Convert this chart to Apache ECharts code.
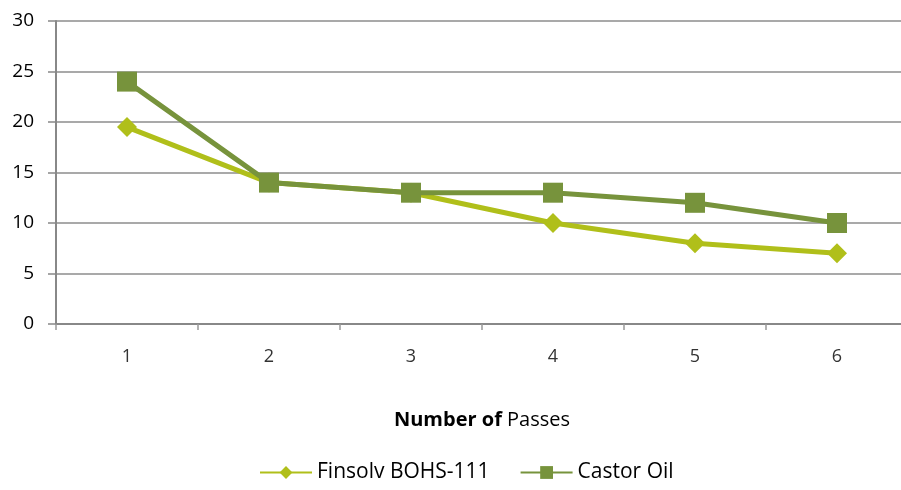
<!DOCTYPE html>
<html><head><meta charset="utf-8">
<script src="https://cdn.jsdelivr.net/npm/echarts@6/dist/echarts.min.js"></script>
<style>html,body{margin:0;padding:0;background:#fff;overflow:hidden}#c{width:910px;height:490px}</style>
</head><body><div id="c"></div>
<script>
const categories = ['1','2','3','4','5','6'];
const finsolv = [19.5, 14, 13, 10, 8, 7];
const castor = [24, 14, 13, 13, 12, 10];
const seriesNames = ['Finsolv BOHS-111', 'Castor Oil'];
const chart = echarts.init(document.getElementById('c'));
const font = '"Open Sans", "DejaVu Sans", sans-serif';
chart.setOption({
  animation: false,
  textStyle: {fontFamily: font},
  grid: {left: 56, top: 21, right: 2, bottom: 166, containLabel: false},
  legend: {
    bottom: 2, left: 254, itemWidth: 52, itemHeight: 16, itemGap: 30,
    textStyle: {fontSize: 21, color: '#000', fontFamily: font},
    data: seriesNames
  },
  xAxis: {
    type: 'category', data: categories, boundaryGap: true,
    axisLine: {lineStyle: {color: '#888', width: 2}},
    axisTick: {show: true, length: 6, lineStyle: {color: '#999', width: 1.5}},
    axisLabel: {fontSize: 18, color: '#333', margin: 24},
    name: '{b|Number of} Passes', nameLocation: 'middle', nameGap: 86,
    nameTextStyle: {fontSize: 20, color: '#000', rich: {b: {fontSize: 20, fontWeight: 'bold', color: '#000'}}}
  },
  yAxis: {
    type: 'value', min: 0, max: 30, interval: 5,
    axisLine: {show: true, lineStyle: {color: '#888', width: 2}},
    axisTick: {show: true, length: 8, lineStyle: {color: '#888', width: 1.5}},
    splitLine: {lineStyle: {color: '#8c8c8c', width: 1.5}},
    axisLabel: {fontSize: 19, color: '#000', margin: 22}
  },
  series: [
    {name: seriesNames[0], type: 'line', data: finsolv, symbol: 'diamond', symbolSize: 20,
     lineStyle: {color: '#b0bf1a', width: 5}, itemStyle: {color: '#b0bf1a'}},
    {name: seriesNames[1], type: 'line', data: castor, symbol: 'rect', symbolSize: 20,
     lineStyle: {color: '#77933c', width: 5}, itemStyle: {color: '#77933c'}}
  ]
});
</script></body></html>
